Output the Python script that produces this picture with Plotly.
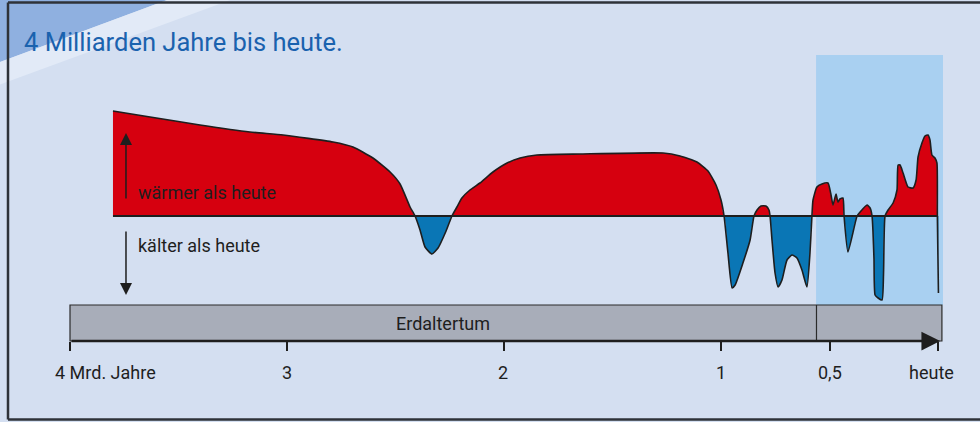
import plotly.graph_objects as go
import numpy as np

# ---- data (age in billions of years before today, relative temperature deviation) ----
ages = [3.802, 3.631, 3.401, 3.171, 3.018, 2.788, 2.696, 2.604, 2.525, 2.479, 2.433, 2.410,
        2.387, 2.364, 2.332, 2.304, 2.267, 2.240,
        2.217, 2.194, 2.157, 2.111, 2.051, 1.986, 1.926, 1.848, 1.650, 1.267, 1.189, 1.111, 1.060, 1.023, 1.000, 0.986,
        0.968, 0.949, 0.935, 0.899, 0.866, 0.848,
        0.834, 0.816, 0.793, 0.779, 0.774,
        0.765, 0.751, 0.737, 0.719, 0.696, 0.673, 0.650, 0.627, 0.604, 0.590, 0.581,
        0.576, 0.558, 0.535, 0.507, 0.493, 0.484, 0.470, 0.461, 0.452, 0.438, 0.433,
        0.415, 0.373,
        0.359, 0.327, 0.313, 0.304,
        0.300, 0.295, 0.290, 0.276, 0.258, 0.251, 0.244,
        0.230, 0.207, 0.189, 0.184, 0.175, 0.161, 0.138, 0.115, 0.101, 0.092, 0.074, 0.060, 0.046, 0.037,
        0.028, 0.014, 0.005, 0.003,
        -0.002]
temps = [10.5, 9.9, 9.1, 8.4, 8.1, 7.4, 6.9, 5.8, 4.4, 3.2, 0.9, 0.0,
         -1.4, -3.1, -3.8, -3.2, -1.5, 0.0,
         0.9, 1.8, 2.6, 3.3, 4.4, 5.3, 5.8, 6.1, 6.2, 6.3, 6.0, 5.4, 4.5, 3.1, 1.6, 0.0,
         -3.7, -7.2, -6.9, -4.7, -2.4, 0.0,
         0.6, 1.0, 1.0, 0.6, 0.0,
         -2.4, -5.7, -7.1, -6.4, -4.4, -3.9, -4.2, -5.4, -7.1, -3.7, 0.0,
         1.6, 2.9, 3.2, 3.3, 2.1, 1.1, 2.2, 1.4, 1.7, 1.8, 0.0,
         -3.6, 0.0,
         0.4, 1.1, 0.8, 0.0,
         -1.4, -4.3, -7.9, -8.2, -8.4, -5.7, 0.0,
         0.6, 1.3, 2.6, 5.1, 5.1, 4.3, 2.9, 2.8, 3.6, 5.9, 7.3, 8.0, 8.1, 7.6,
         6.1, 5.8, 5.3, 0.0,
         -7.7]

tick_pos = [4, 3, 2, 1, 0.5, 0]
tick_text = ["4 Mrd. Jahre", "3", "2", "1", "0,5", "heute"]
tick_label_shift = [35, 0, -1, 0, 0, -7]

era_name = "Erdaltertum"
era_start, era_end = 4.0, 0.56
timeline_end = -0.018
focus_start, focus_end = 0.562, -0.023

title = "4 Milliarden Jahre bis heute."
warm_label = "wärmer als heute"
cold_label = "kälter als heute"

# ---- styling ----
FONT = "Roboto, Liberation Sans, sans-serif"
BG = "#d4dff1"
RED = "#d6000f"
BLUE = "#0a76b5"
INK = "#1e1e1e"
SHAPE = dict(shape="spline", smoothing=0.5)

t = np.array(temps)
pos = np.maximum(t, 0)
neg = np.minimum(t, 0)

fig = go.Figure()
fig.add_trace(go.Scatter(x=ages, y=pos, mode="lines", fill="tozeroy", fillcolor=RED,
                         line=dict(width=0, color=RED, **SHAPE), hoverinfo="skip", showlegend=False))
fig.add_trace(go.Scatter(x=ages, y=neg, mode="lines", fill="tozeroy", fillcolor=BLUE,
                         line=dict(width=0, color=BLUE, **SHAPE), hoverinfo="skip", showlegend=False))
fig.add_trace(go.Scatter(x=ages, y=temps, mode="lines",
                         line=dict(width=1.6, color=INK, **SHAPE), hoverinfo="skip", showlegend=False))

bar_top, bar_bot = -8.9, -12.5

shapes = [
    # decorative corner wedge
    dict(type="path", xref="paper", yref="paper", path="M 0,1 L 0.1704,1 L 0,0.853 Z",
         fillcolor="#8fb0e0", line=dict(width=0), layer="below"),
    dict(type="path", xref="paper", yref="paper", path="M 0.1704,1 L 0.235,1 L 0,0.80 L 0,0.853 Z",
         fillcolor="#e2eaf7", line=dict(width=0), layer="below"),
    # highlighted recent period
    dict(type="rect", xref="x", yref="y", x0=focus_start, x1=focus_end, y0=bar_top, y1=16.1,
         fillcolor="#a9d0f1", line=dict(width=0), layer="below"),
    # zero line
    dict(type="line", xref="x", yref="y", x0=ages[0], x1=0.0, y0=0, y1=0,
         line=dict(color=INK, width=2), layer="above"),
    # timeline bar
    dict(type="rect", xref="x", yref="y", x0=era_start, x1=timeline_end, y0=bar_bot, y1=bar_top,
         fillcolor="#a8adb9", line=dict(color="#2b2b2b", width=1.2), layer="above"),
    dict(type="line", xref="x", yref="y", x0=era_end, x1=era_end, y0=bar_bot, y1=bar_top,
         line=dict(color="#2b2b2b", width=1.2), layer="above"),
    # frame
    dict(type="line", xref="paper", yref="paper", x0=8/980, x1=1, y0=1-2.5/422, y1=1-2.5/422,
         line=dict(color="#2e3238", width=2.5)),
    dict(type="line", xref="paper", yref="paper", x0=8/980, x1=8/980, y0=1-2.5/422, y1=1-419.5/422,
         line=dict(color="#2e3238", width=2.5)),
    dict(type="line", xref="paper", yref="paper", x0=8/980, x1=1, y0=1-419.5/422, y1=1-419.5/422,
         line=dict(color="#2e3238", width=2.5)),
]

annotations = [
    dict(xref="paper", yref="paper", x=22/980, y=1-42/422, xanchor="left", yanchor="middle",
         text=title, showarrow=False, font=dict(family=FONT, size=25.5, color="#1a62ae")),
    dict(xref="x", yref="y", x=3.696, y=2.4, xanchor="left", yanchor="middle", text=warm_label,
         showarrow=False, font=dict(family=FONT, size=18, color=INK)),
    dict(xref="x", yref="y", x=3.696, y=-2.9, xanchor="left", yanchor="middle", text=cold_label,
         showarrow=False, font=dict(family=FONT, size=18, color=INK)),
    # up / down arrows
    dict(xref="x", yref="y", x=3.742, y=8.3, ax=3.742, ay=1.6, axref="x", ayref="y", text="",
         showarrow=True, arrowhead=2, arrowsize=1.6, arrowwidth=1.5, arrowcolor=INK, standoff=0),
    dict(xref="x", yref="y", x=3.742, y=-7.9, ax=3.742, ay=-1.4, axref="x", ayref="y", text="",
         showarrow=True, arrowhead=2, arrowsize=1.6, arrowwidth=1.5, arrowcolor=INK, standoff=0),
    # time arrow along the bar
    dict(xref="x", yref="y", x=-0.01, y=bar_bot, ax=era_start, ay=bar_bot, axref="x", ayref="y",
         text="", showarrow=True, arrowhead=2, arrowsize=1.5, arrowwidth=2.5, arrowcolor=INK, standoff=0),
    dict(xref="x", yref="y", x=(era_start + era_end) / 2, y=(bar_top + bar_bot) / 2, text=era_name,
         showarrow=False, font=dict(family=FONT, size=18, color=INK)),
]
for p, txt, sh in zip(tick_pos, tick_text, tick_label_shift):
    annotations.append(dict(xref="x", yref="y", x=p, y=-15.6, text=txt, showarrow=False,
                            xshift=sh, font=dict(family=FONT, size=18, color=INK)))

fig.update_layout(
    width=980, height=422, autosize=False,
    margin=dict(l=0, r=0, t=0, b=0),
    paper_bgcolor=BG, plot_bgcolor=BG,
    showlegend=False,
    xaxis=dict(range=[4.3226, -0.1935], anchor="free", position=(422-341)/422,
               tickvals=tick_pos, showticklabels=False, ticks="outside", ticklen=9,
               tickwidth=1.5, tickcolor=INK, showgrid=False, zeroline=False, showline=False,
               fixedrange=True),
    yaxis=dict(range=[-20.6, 21.6], visible=False, fixedrange=True),
    shapes=shapes,
    annotations=annotations,
)

fig.write_html("out.html", config={"displayModeBar": False},
               post_script="document.body.style.margin='0';document.body.style.overflow='hidden';")
